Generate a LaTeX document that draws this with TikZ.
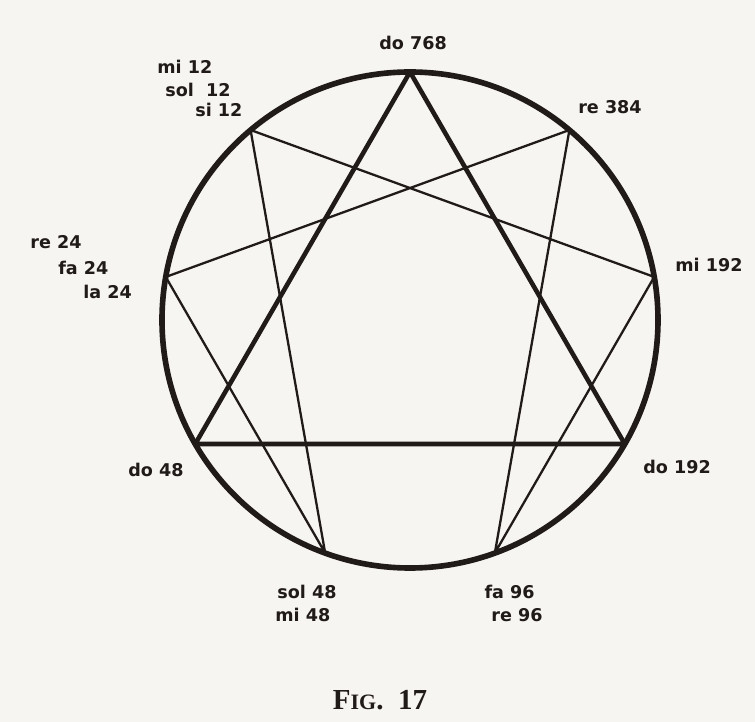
\documentclass[tikz,border=0pt]{standalone}
\usepackage{fontspec}
\newfontfamily\labfont{DejaVu Sans}
\newfontfamily\capfont{Liberation Serif}
\definecolor{paper}{RGB}{246,245,242}
\definecolor{ink}{RGB}{32,26,24}

\begin{document}
\begin{tikzpicture}[font=\labfont\bfseries\fontsize{10}{12}\selectfont, line join=round, line cap=round,
	rim/.style={draw=ink, line width=3.2pt},
	tri/.style={draw=ink, line width=2.6pt},
	hex/.style={draw=ink, line width=1.3pt},
	lab/.style={text=ink, inner sep=0pt, anchor=west},
	labr/.style={lab, anchor=east}]
	\def\r{4.96}
	% paper and frame of the picture
	\fill[paper] (-8.2,-8.04) rectangle (6.9,6.4);
	\useasboundingbox (-8.2,-8.04) rectangle (6.9,6.4);
	% the nine points on the circle
	\foreach \i/\a in {9/90,1/50,2/10,3/-30,4/-70,5/-110,6/-150,7/170,8/130}
		\coordinate (p\i) at (\a:\r);
	\draw[rim] (0,0) circle (\r);
	\draw[tri] (p9)--(p3)--(p6)--cycle;
	\draw[hex] (p1)--(p4)--(p2)--(p8)--(p5)--(p7)--cycle;
	% labels
	\node[lab, anchor=center] (l9) at (0.06,5.54) {do 768};
	\node[lab, anchor=center] (l1) at (4.0,4.26) {re 384};
	\node[lab] (l2) at (5.3,1.1) {mi 192};
	\node[lab] (l3) at (4.66,-2.94) {do 192};
	\node[labr] (l4a) at (2.5,-5.44) {fa 96};
	\node[labr] (l4b) at (2.66,-5.9) {re 96};
	\node[lab] (l5a) at (-2.66,-5.44) {sol 48};
	\node[lab] (l5b) at (-2.7,-5.9) {mi 48};
	\node[lab] (l6) at (-5.64,-3.0) {do 48};
	\node[lab] (l7a) at (-7.6,1.56) {re 24};
	\node[lab] (l7b) at (-7.04,1.04) {fa 24};
	\node[lab] (l7c) at (-6.54,0.56) {la 24};
	\node[lab] (l8a) at (-5.06,5.06) {mi 12};
	\node[lab] (l8b) at (-4.9,4.6) {sol\ \ 12};
	\node[lab] (l8c) at (-4.3,4.2) {si 12};
	\node[text=ink, inner sep=0pt] (fig) at (-0.6,-7.6)
		{\capfont\bfseries\fontsize{16.5}{20}\selectfont F{\fontsize{12.5}{15}\selectfont IG}.\ \ 17};
\end{tikzpicture}
\end{document}
